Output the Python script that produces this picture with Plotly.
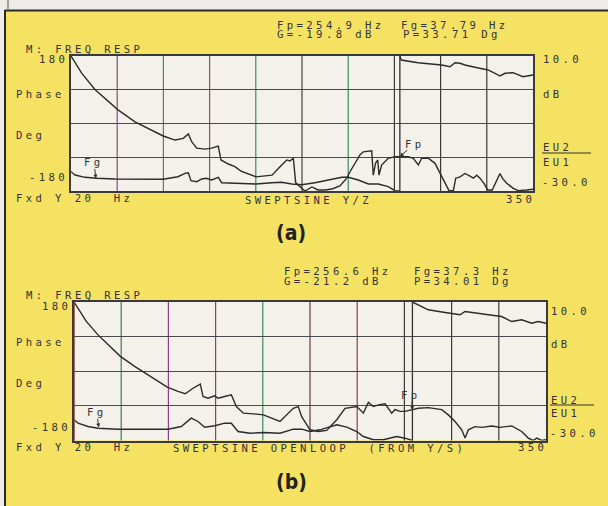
import plotly.graph_objects as go

W, H = 608, 506

# ---------------- readouts ----------------
fp_a, fg_a, g_a, p_a = 254.9, 37.79, -19.8, 33.71
fp_b, fg_b, g_b, p_b = 256.6, 37.3, -21.2, 34.01
f_start, f_stop = 20, 350

# ---------------- panel (a) ----------------
freq_a_gain = [20, 27.6, 37.1, 45.5, 53.1, 65.7, 75.2, 85.9, 94.3, 100.2, 103.8, 106.2, 109.8,
               115.7, 120.5, 125.2, 127.1, 132.4, 137.1, 141.4, 152.1, 158.6, 163.6, 169.3,
               174.1, 176.4, 178.8, 180.5, 185.0, 187.1, 192.1, 196.4, 201.4, 206.4, 212.1,
               217.1, 219.3, 222.9, 226.4, 228.8, 234.8, 235.9, 237.6, 239.1, 240.0, 241.9,
               246.6, 251.4, 253.8, 257.4, 260.9, 264.5, 268.1, 270.5, 275.2, 280.0, 283.6,
               287.1, 290.0, 293.1, 294.8, 297.9, 301.4, 305.0, 307.4, 309.8, 312.1, 315.2,
               317.6, 320.9, 323.6, 326.4, 328.1, 331.2, 335.9, 339.5, 345.5, 350]
gain_a = [10, 4.9, 0.1, -3.0, -5.8, -9.5, -11.4, -13.7, -14.9, -14.4, -13.1, -15.4, -17.3,
          -17.6, -17.3, -16.7, -20.8, -22.0, -22.8, -24.1, -25.8, -25.6, -25.3, -22.8,
          -20.8, -21.1, -20.3, -27.6, -29.1, -30.0, -28.8, -29.7, -29.7, -29.4, -28.5,
          -26.1, -24.3, -21.8, -19.3, -18.4, -18.1, -25.3, -21.7, -20.8, -25.3, -22.3,
          -20.3, -19.8, -19.8, -19.6, -19.8, -20.3, -22.3, -20.3, -20.3, -21.8, -24.8,
          -27.7, -29.9, -29.9, -26.2, -25.8, -24.8, -25.6, -26.2, -25.3, -26.2, -27.9,
          -29.7, -29.7, -27.2, -24.8, -26.2, -27.7, -29.2, -29.9, -29.7, -29.5]
freq_a_phase = [20, 22.9, 30.0, 38.4, 51.4, 75.0, 85.7, 96.4, 101.4, 103.8, 105.7, 109.8, 113.4,
                116.4, 120.5, 125.2, 127.6, 137.1, 152.1, 163.4, 170.5, 177.6, 184.8, 194.3,
                203.8, 213.4, 218.1, 225.2, 232.4, 239.5, 246.6, 251.4, 254.9, None,
                254.9, 255.9, 267.9, 284.8, 290.7, 294.3, 297.9, 301.4, 308.6, 317.9, 322.9,
                326.4, 330.0, 335.7, 342.9, 350]
phase_a = [-128.5, -137.3, -143.5, -146.1, -148.0, -148.8, -148.8, -141.9, -132.8, -131.2,
           -152.5, -155.2, -148.0, -146.1, -150.7, -143.5, -157.9, -159.5, -161.3, -157.9,
           -156.8, -161.3, -163.2, -157.9, -150.7, -143.5, -143.5, -150.7, -161.3, -161.3,
           -168.5, -179.2, -180, None,
           180, 169.3, 162.1, 156.0, 151.5, 162.1, 160.5, 156.0, 149.9, 142.7, 133.9,
           126.7, 133.9, 135.5, 124.8, 129.3]

# ---------------- panel (b) ----------------
freq_b_gain = [20, 28.6, 36.8, 45.0, 52.4, 62.4, 71.7, 85.2, 92.7, 97.8, 103.2, 108.3, 110.2,
               113.7, 118.4, 120.7, 125.4, 130.0, 133.5, 138.4, 145.4, 152.4, 164.0, 173.3,
               176.8, 179.2, 185.0, 190.8, 196.7, 203.7, 209.5, 217.7, 222.3, 225.8, 229.3,
               232.8, 237.5, 242.1, 244.4, 247.9, 251.4, 256.5, 260.7, 267.7, 277.1, 281.7,
               286.4, 291.1, 293.4, 295.7, 300.4, 305.1, 312.1, 317.9, 326.0, 333.0, 337.6,
               341.1, 343.5, 347.0, 350]
gain_b = [10, 4.4, 0.5, -2.9, -5.7, -8.6, -11.0, -14.6, -15.8, -16.5, -14.9, -13.7, -17.3,
          -17.8, -17.1, -17.8, -17.3, -16.8, -20.2, -22.1, -22.3, -22.6, -24.5, -20.7,
          -20.2, -23.1, -26.9, -27.4, -27.1, -24.0, -20.7, -20.2, -22.1, -19.0, -20.2,
          -19.7, -19.4, -22.1, -21.1, -21.6, -21.6, -21.0, -20.7, -20.5, -21.1, -22.6,
          -24.5, -26.9, -29.3, -26.9, -26.0, -26.2, -25.8, -26.2, -25.8, -27.4, -29.3,
          -30.0, -29.3, -30.0, -29.8]
freq_b_phase = [20, 22.8, 29.8, 36.8, 50.8, 85.7, 95.0, 102.0, 106.7, 111.4, 118.4, 125.4,
                130.0, 134.7, 143.1, 152.4, 164.0, 173.3, 179.2, 185.0, 192.0, 203.7, 210.7,
                217.7, 222.3, 229.3, 236.3, 241.0, 245.6, 251.4, 256.6, None,
                256.6, 267.7, 279.4, 284.1, 289.9, 293.4, 300.4, 309.7, 319.0, 326.0, 333.0,
                340.0, 344.6, 350]
phase_b = [-126.2, -135.0, -143.6, -148.0, -150.6, -150.6, -143.6, -122.0, -130.6, -145.4,
           -141.8, -135.0, -135.0, -156.6, -161.0, -159.2, -161.0, -150.6, -150.6, -156.6,
           -152.2, -139.2, -145.4, -156.6, -169.6, -178.0, -178.1, -174.0, -169.6, -174.0,
           -180, None,
           180, 159.7, 152.7, 149.3, 146.7, 155.3, 150.9, 146.7, 142.3, 129.3, 133.7,
           124.9, 129.3, 124.9]

# vertical division colours (photo of a colour screen)
grid_colors_a = ["#8a4a8c", "#3f8a5e", "#8a4a8c", "#3f8a5e", "#4a4048", "#3f8a5e",
                 "#3a3a3a", "#3a3a3a", "#3a3a3a"]
grid_colors_b = ["#3f7a5a", "#8a3f80", "#8f3f6a", "#3f8a5e", "#6a3a4a", "#8f4040",
                 "#3a3a3a", "#3a3a3a", "#3a3a3a"]

YELLOW = "#F5E263"
PLOTBG = "#F3F1EA"
INK = "#2b2b2b"
TXT = "#333333"


def px(x):
    return x / W


def py(y):
    return 1 - y / H


fig = go.Figure()
line = dict(color=INK, width=1.4)
fig.add_trace(go.Scatter(x=freq_a_gain, y=gain_a, mode="lines", line=line, xaxis="x", yaxis="y2"))
fig.add_trace(go.Scatter(x=freq_a_phase, y=phase_a, mode="lines", line=line, xaxis="x", yaxis="y",
                         connectgaps=False))
fig.add_trace(go.Scatter(x=freq_b_gain, y=gain_b, mode="lines", line=line, xaxis="x2", yaxis="y4"))
fig.add_trace(go.Scatter(x=freq_b_phase, y=phase_b, mode="lines", line=line, xaxis="x2", yaxis="y3",
                         connectgaps=False))

dom_a = dict(x=[px(71), px(533)], y=[py(191), py(56)])
dom_b = dict(x=[px(74), px(546)], y=[py(440.5), py(302)])

xcommon = dict(range=[f_start, f_stop], showticklabels=False, showgrid=False, zeroline=False,
               ticks="", showline=True, mirror=True, linecolor="#3a3a3a", linewidth=1.5)
ycommon = dict(range=[-180, 180], tickvals=[-90, 0, 90], showticklabels=False, showgrid=True,
               gridcolor="#4a4a4a", gridwidth=1.2, zeroline=False, ticks="", showline=True,
               mirror=True, linecolor="#3a3a3a", linewidth=1.5)
gcommon = dict(range=[-30, 10], showticklabels=False, showgrid=False, zeroline=False, ticks="",
               side="right", showline=False)

fig.update_layout(
    width=W, height=H, autosize=False,
    margin=dict(l=0, r=0, t=0, b=0),
    paper_bgcolor=YELLOW, plot_bgcolor=PLOTBG,
    showlegend=False,
    xaxis=dict(domain=dom_a["x"], anchor="y", **xcommon),
    yaxis=dict(domain=dom_a["y"], anchor="x", **ycommon),
    yaxis2=dict(overlaying="y", anchor="x", **gcommon),
    xaxis2=dict(domain=dom_b["x"], anchor="y3", **xcommon),
    yaxis3=dict(domain=dom_b["y"], anchor="x2", **ycommon),
    yaxis4=dict(overlaying="y3", anchor="x2", **gcommon),
)

shapes = []
div = (f_stop - f_start) / 10
for k, c in enumerate(grid_colors_a, start=1):
    shapes.append(dict(type="line", xref="x", yref="y domain", x0=f_start + k * div,
                       x1=f_start + k * div, y0=0, y1=1, line=dict(color=c, width=1.2),
                       layer="below"))
for k, c in enumerate(grid_colors_b, start=1):
    shapes.append(dict(type="line", xref="x2", yref="y3 domain", x0=f_start + k * div,
                       x1=f_start + k * div, y0=0, y1=1, line=dict(color=c, width=1.2),
                       layer="below"))
# left edge of (b) looks reddish on the photo
shapes.append(dict(type="line", xref="x2", yref="y3 domain", x0=f_start, x1=f_start, y0=0, y1=1,
                   line=dict(color="#9a4a3a", width=1.6)))
# Fp cursors
shapes.append(dict(type="line", xref="x", yref="y domain", x0=fp_a, x1=fp_a, y0=0, y1=1,
                   line=dict(color="#333333", width=1.3)))
shapes.append(dict(type="line", xref="x2", yref="y3 domain", x0=fp_b, x1=fp_b, y0=0, y1=1,
                   line=dict(color="#333333", width=1.3)))
# page frame (top white strip and left border)
shapes += [
    dict(type="rect", xref="paper", yref="paper", x0=0, x1=1, y0=py(10), y1=1,
         fillcolor="#EDECE7", line=dict(width=0), layer="above"),
    dict(type="rect", xref="paper", yref="paper", x0=0, x1=px(4.5), y0=0, y1=1,
         fillcolor="#EDECE7", line=dict(width=0), layer="above"),
    dict(type="line", xref="paper", yref="paper", x0=px(4.5), x1=1, y0=py(10.5), y1=py(10.5),
         line=dict(color="#2a2a2a", width=2)),
    dict(type="line", xref="paper", yref="paper", x0=px(5), x1=px(5), y0=0, y1=py(10),
         line=dict(color="#2a2a2a", width=2)),
    dict(type="line", xref="paper", yref="paper", x0=px(8), x1=px(8), y0=py(9), y1=1,
         line=dict(color="#555555", width=1)),
    # EU2 underlines
    dict(type="line", xref="paper", yref="paper", x0=px(542), x1=px(591), y0=py(153), y1=py(153),
         line=dict(color=TXT, width=1.2)),
    dict(type="line", xref="paper", yref="paper", x0=px(550), x1=px(594), y0=py(405), y1=py(405),
         line=dict(color=TXT, width=1.2)),
]
fig.update_layout(shapes=shapes)

ann = []
FONT = "DejaVu Sans Mono"
SP = "letter-spacing:3.4px"
FS = 10.6


def txt(s, x, y, anchor="left", size=FS):
    ann.append(dict(text=f"<span style='{SP}'>{s}</span>", x=px(x), y=py(y),
                    xref="paper", yref="paper", xanchor=anchor, yanchor="middle",
                    showarrow=False, borderpad=0,
                    font=dict(family=FONT, size=size, color=TXT)))


# panel (a) texts
txt(f"Fp={fp_a} Hz", 276, 24.5)
txt(f"Fg={fg_a} Hz", 400, 24.5)
txt(f"G={g_a} dB", 276, 34.5)
txt(f"P={p_a} Dg", 402, 34.5)
txt("M: FREQ RESP", 25, 48.5)
txt("180", 69, 58.5, "right")
txt("Phase", 15, 94)
txt("Deg", 15, 135)
txt("-180", 69, 177, "right")
txt(f"Fxd Y {f_start}  Hz", 15, 198)
txt("SWEPTSINE Y/Z", 244, 200)
txt(f"{f_stop}", 536, 199, "right")
txt("10.0", 542, 59)
txt("dB", 542, 94)
txt("EU2", 542, 147)
txt("EU1", 542, 162)
txt("-30.0", 541, 182)

# panel (b) texts
txt(f"Fp={fp_b} Hz", 283, 270.5)
txt(f"Fg={fg_b} Hz", 413, 270.5)
txt(f"G={g_b} dB", 283, 280.5)
txt(f"P={p_b} Dg", 413, 280.5)
txt("M: FREQ RESP", 25, 294.5)
txt("180", 72, 305.5, "right")
txt("Phase", 15, 342)
txt("Deg", 15, 383)
txt("-180", 72, 427, "right")
txt(f"Fxd Y {f_start}  Hz", 15, 447)
txt("SWEPTSINE OPENLOOP  (FROM Y/S)", 172, 447.5)
txt(f"{f_stop}", 548, 447, "right")
txt("10.0", 550, 311)
txt("dB", 550, 344)
txt("EU2", 550, 400)
txt("EU1", 550, 413)
txt("-30.0", 549, 433)


def marker(label, xref, yref, x, y, ax, ay):
    ann.append(dict(text=f"<span style='{SP}'>{label}</span>", x=x, y=y,
                    xref=xref, yref=yref, ax=ax, ay=ay, showarrow=True, arrowhead=2,
                    arrowsize=0.8, arrowwidth=1, arrowcolor=TXT, borderpad=0,
                    font=dict(family=FONT, size=FS, color=TXT)))


marker("Fg", "x", "y", fg_a, -180 + p_a, -2, -16)
marker("Fp", "x", "y2", fp_a, g_a, 15, -13)
marker("Fg", "x2", "y3", fg_b, -180 + p_b, -2, -15)
marker("Fp", "x2", "y4", fp_b, g_b, -1, -15)

for lab, x, y in [("(a)", 291, 233), ("(b)", 291, 482)]:
    ann.append(dict(text=f"<b>{lab}</b>", x=px(x), y=py(y), xref="paper", yref="paper",
                    showarrow=False, xanchor="center", yanchor="middle",
                    font=dict(family="DejaVu Sans Condensed, Roboto Condensed, Roboto, sans-serif",
                              size=21, color="#222222")))

fig.update_layout(annotations=ann)
fig.write_html("out.html", config={"displayModeBar": False},
               post_script="document.body.style.margin='0';")
